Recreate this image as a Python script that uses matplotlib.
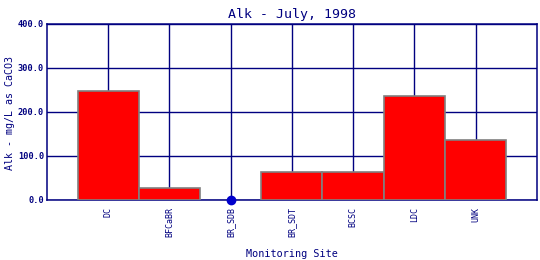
import matplotlib
matplotlib.use("Agg")
import matplotlib.pyplot as plt

sites = ["DC", "BFCaBR", "BR_SDB", "BR_SDT", "BCSC", "LDC", "UNK"]
alk = [247, 27, 0, 64, 64, 236, 136]
y_ticks = [0, 100, 200, 300, 400]

navy = "#000080"
plt.rcParams["font.family"] = ["DejaVu Sans Mono"]

fig = plt.figure(figsize=(5.4, 2.6), dpi=100)
ax = fig.add_axes([0.087, 0.231, 0.907, 0.677])

pos = list(range(1, len(sites) + 1))
for x, v in zip(pos, alk):
    if v > 0:
        ax.bar(x, v, width=1.0, color="red", edgecolor="#808080", linewidth=1.2, zorder=3)
    else:
        # zero value drawn as a dot on the axis
        ax.plot(x, v, "o", color="#0000cc", markersize=6, zorder=4, clip_on=False)

ax.set_xlim(0, len(sites) + 1)
ax.set_ylim(0, 400)
ax.set_xticks(pos)
ax.set_xticklabels(sites, rotation=90, fontsize=6, color=navy)
ax.set_yticks(y_ticks)
ax.set_yticklabels([f"{t:.1f}" for t in y_ticks], fontsize=6.2, color=navy, fontweight="bold")
ax.tick_params(axis="y", length=0, pad=2)
ax.tick_params(axis="x", length=0, pad=5)
ax.grid(True, color=navy, linewidth=1)
ax.set_axisbelow(True)
for s in ax.spines.values():
    s.set_color(navy)
    s.set_linewidth(1.1)

ax.set_title("Alk - July, 1998", fontsize=9.5, color=navy, pad=4)
fig.text(0.54, 0.023, "Monitoring Site", fontsize=7.3,
         color=navy, ha="center", va="center")
fig.text(0.019, 0.565, "Alk - mg/L as CaCO3",
         fontsize=7.2, color=navy, rotation=90, ha="center", va="center")

fig.savefig("out.png", dpi=100)
